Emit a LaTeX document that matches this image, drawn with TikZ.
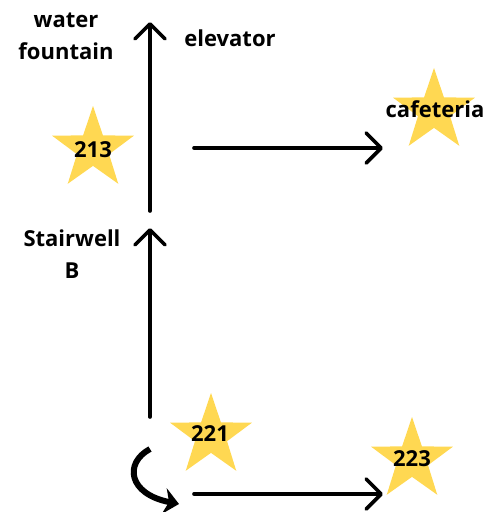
\documentclass[tikz,border=0pt]{standalone}
\usepackage{fontspec}
\setmainfont{Open Sans}
\usetikzlibrary{shapes.geometric,arrows.meta}
\definecolor{estrella}{RGB}{255,216,82}
\tikzset{
  estrellita/.style={star,star points=5,star point ratio=2.55,fill=estrella,minimum size=86pt,inner sep=0pt},
  rotulo/.style={font=\fontsize{22}{32}\selectfont\bfseries,align=center,inner sep=0pt},
  flecha/.style={line width=3.6pt,line cap=round,-{Straight Barb[length=15pt,width=30pt,line cap=round,line join=round]}}
}
\begin{document}
\begin{tikzpicture}[x=1pt,y=-1pt]
\useasboundingbox (0,0) rectangle (486,512);
% estrellas
\node (e213) at (93,149) [estrellita]{};
\node (ecaf) at (434,111) [estrellita]{};
\node (e221) at (211,436) [estrellita]{};
\node (e223) at (412,460) [estrellita]{};
% textos
\node (t213) at (93,150) [rotulo]{213};
\node (tcaf) at (435,109) [rotulo]{cafeteria};
\node (t221) at (210,434) [rotulo]{221};
\node (t223) at (412,459) [rotulo]{223};
\node (agua) at (66,36) [rotulo]{water\\fountain};
\node (elev) at (230,38) [rotulo]{elevator};
\node (esc) at (72,254) [rotulo]{Stairwell\\B};
% flechas
\coordinate (a1) at (150,211);
\coordinate (b1) at (150,22);
\coordinate (a2) at (150,417);
\coordinate (b2) at (150,228);
\coordinate (a3) at (194,148);
\coordinate (b3) at (383,148);
\coordinate (a4) at (194,494);
\coordinate (b4) at (383,494);
\draw[flecha] (a1) -- (b1);
\draw[flecha] (a2) -- (b2);
\draw[flecha] (a3) -- (b3);
\draw[flecha] (a4) -- (b4);
% vuelta
\coordinate (c1) at (150,449);
\coordinate (c2) at (179,504);
\draw[line width=6pt,-{Stealth[length=15pt,width=26pt]}] (c1) .. controls (124,463) and (128,494) .. (c2);
\end{tikzpicture}
\end{document}
